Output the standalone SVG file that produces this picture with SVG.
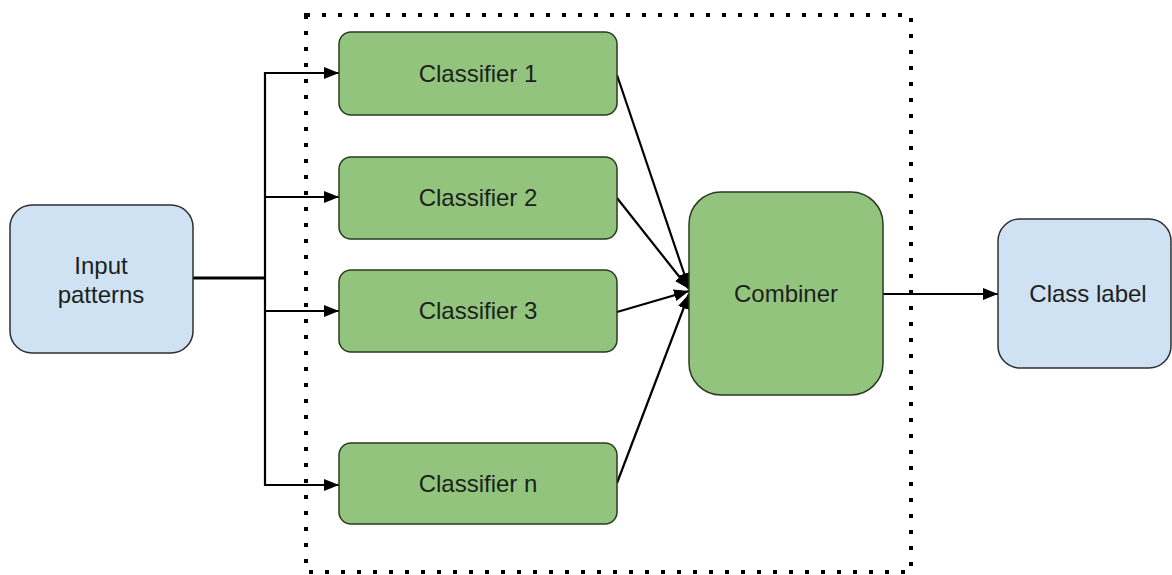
<svg xmlns="http://www.w3.org/2000/svg" width="1172" height="575" viewBox="0 0 1172 575">
  <style>
    .blue { fill: #cfe2f3; stroke: #2f2f2f; stroke-width: 1.5; }
    .green { fill: #93c47d; stroke: #2a3a22; stroke-width: 1.5; }
    .lbl { font-family: "Liberation Sans", Arial, sans-serif; font-size: 24px; text-anchor: middle; fill: #1c1f1c; }
    .conn { fill: none; stroke: #000; stroke-width: 2.2; }
    .border { fill: none; stroke: #000; stroke-width: 4; stroke-dasharray: 4 12; }
  </style>
  <defs>
    <marker id="arrow" markerUnits="userSpaceOnUse" markerWidth="15" markerHeight="12" refX="15" refY="6" orient="auto">
      <path d="M0,0 L15,6 L0,12 Z" fill="#000"/>
    </marker>
  </defs>
  <rect width="1172" height="575" fill="#fff"/>

  <rect id="ensemble-border" class="border" x="306" y="15" width="605" height="557"/>

  <g id="connectors">
    <line x1="193" y1="278" x2="265" y2="278" stroke="#000" stroke-width="3"/>
    <line class="conn" x1="265" y1="72" x2="265" y2="486"/>
    <line class="conn" x1="264" y1="73" x2="339" y2="73" marker-end="url(#arrow)"/>
    <line class="conn" x1="264" y1="197" x2="339" y2="197" marker-end="url(#arrow)"/>
    <line class="conn" x1="264" y1="311" x2="339" y2="311" marker-end="url(#arrow)"/>
    <line class="conn" x1="264" y1="485" x2="339" y2="485" marker-end="url(#arrow)"/>
    <line class="conn" x1="617" y1="75" x2="689" y2="288" marker-end="url(#arrow)"/>
    <line class="conn" x1="617" y1="198" x2="689" y2="289" marker-end="url(#arrow)"/>
    <line class="conn" x1="617" y1="312" x2="689" y2="291" marker-end="url(#arrow)"/>
    <line class="conn" x1="617" y1="483" x2="689" y2="294" marker-end="url(#arrow)"/>
    <line class="conn" x1="883" y1="294" x2="998" y2="294" marker-end="url(#arrow)"/>
  </g>

  <g id="input-patterns">
    <rect class="blue" x="10" y="205" width="183" height="148" rx="22"/>
    <text class="lbl" x="101" y="274">Input</text>
    <text class="lbl" x="101" y="303">patterns</text>
  </g>

  <g id="classifier-1">
    <rect class="green" x="339" y="32" width="278" height="83" rx="12"/>
    <text class="lbl" x="478" y="82">Classifier 1</text>
  </g>
  <g id="classifier-2">
    <rect class="green" x="339" y="157" width="278" height="82" rx="12"/>
    <text class="lbl" x="478" y="206">Classifier 2</text>
  </g>
  <g id="classifier-3">
    <rect class="green" x="339" y="270" width="278" height="82" rx="12"/>
    <text class="lbl" x="478" y="319">Classifier 3</text>
  </g>
  <g id="classifier-n">
    <rect class="green" x="339" y="443" width="278" height="81" rx="12"/>
    <text class="lbl" x="478" y="492">Classifier n</text>
  </g>

  <g id="combiner">
    <rect class="green" x="689" y="192" width="194" height="203" rx="32"/>
    <text class="lbl" x="786" y="302">Combiner</text>
  </g>

  <g id="class-label">
    <rect class="blue" x="998" y="219" width="173" height="149" rx="22"/>
    <text class="lbl" x="1088" y="302">Class label</text>
  </g>
</svg>
